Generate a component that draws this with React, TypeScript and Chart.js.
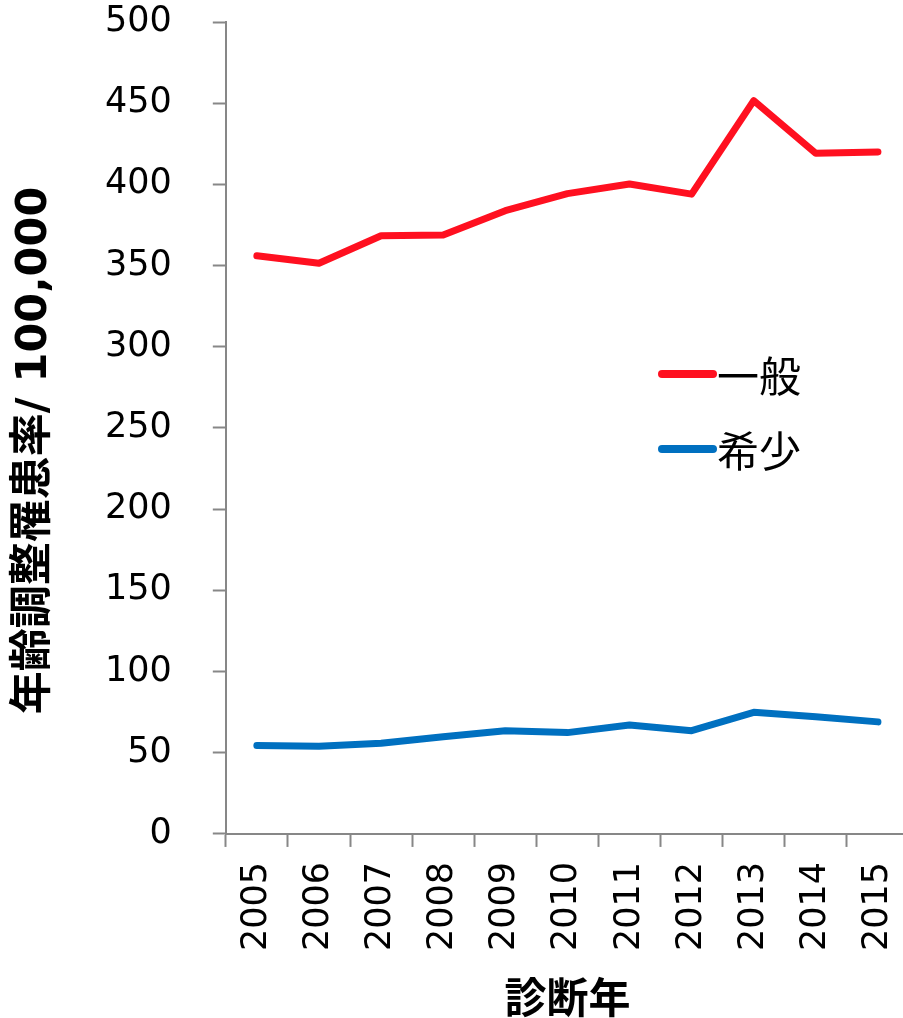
import React, { useEffect, useRef } from "react";
import { Chart, registerables } from "chart.js";

Chart.register(...registerables);

const years = ["2005", "2006", "2007", "2008", "2009", "2010", "2011", "2012", "2013", "2014", "2015"];
const generalRates = [356, 351.4, 368.4, 368.8, 383.8, 394.3, 400.2, 394, 451.6, 419.1, 420];
const rareRates = [54.4, 54.0, 55.8, 59.9, 63.6, 62.4, 67.1, 63.6, 74.9, 72.2, 69.0];
const seriesLabels = ["一般", "希少"];
const seriesColors = ["#FF1020", "#0070C0"];
const yTitle = "年齢調整罹患率/ 100,000   ";
const xTitle = "診断年";

const AXIS_COLOR = "#878787";

const insideLegend = {
  id: "insideLegend",
  afterDatasetsDraw(chart: any) {
    const ctx = chart.ctx;
    chart.data.datasets.forEach((ds: any, i: number) => {
      const y = 374 + i * 75;
      ctx.save();
      ctx.strokeStyle = ds.borderColor;
      ctx.lineWidth = 8;
      ctx.lineCap = "round";
      ctx.beginPath();
      ctx.moveTo(662, y);
      ctx.lineTo(713, y);
      ctx.stroke();
      ctx.fillStyle = "#000";
      ctx.font = '42px "Noto Sans CJK JP"';
      ctx.textBaseline = "middle";
      ctx.textAlign = "left";
      ctx.fillText(ds.label, 717, y + 2);
      ctx.restore();
    });
  },
};

export default function App() {
  const ref = useRef<HTMLCanvasElement | null>(null);
  useEffect(() => {
    if (!ref.current) return;
    const chart = new Chart(ref.current, {
      type: "line",
      data: {
        labels: years,
        datasets: [
          {
            label: seriesLabels[0],
            data: generalRates,
            borderColor: seriesColors[0],
            backgroundColor: seriesColors[0],
            borderWidth: 7,
            pointRadius: 0,
            tension: 0,
            borderCapStyle: "round",
            borderJoinStyle: "round",
          },
          {
            label: seriesLabels[1],
            data: rareRates,
            borderColor: seriesColors[1],
            backgroundColor: seriesColors[1],
            borderWidth: 7,
            pointRadius: 0,
            tension: 0,
            borderCapStyle: "round",
            borderJoinStyle: "round",
          },
        ],
      },
      options: {
        animation: false,
        responsive: false,
        maintainAspectRatio: false,
        layout: { padding: { top: 22, left: 0, right: 0, bottom: 0 } },
        plugins: {
          legend: { display: false },
          tooltip: { enabled: false },
        },
        scales: {
          x: {
            type: "category",
            offset: true,
            afterFit: (s: any) => {
              s.paddingLeft = 0;
              s.paddingRight = 0;
            },
            grid: {
              display: true,
              drawOnChartArea: false,
              drawTicks: true,
              tickLength: 13,
              tickWidth: 2,
              color: AXIS_COLOR,
              offset: true,
            },
            border: { display: true, color: AXIS_COLOR, width: 2 },
            ticks: {
              autoSkip: false,
              minRotation: 90,
              maxRotation: 90,
              padding: 15,
              color: "#000",
              font: { family: "'DejaVu Sans'", size: 35 },
            },
            title: {
              display: true,
              text: xTitle,
              color: "#000",
              padding: { top: 20.5, bottom: 0 },
              font: { family: "'DejaVu Sans', 'Noto Sans CJK JP'", size: 42, weight: "bold", lineHeight: 0.75 },
            },
          },
          y: {
            min: 0,
            max: 500,
            afterFit: (s: any) => {
              s.paddingTop = 0;
              s.paddingBottom = 0;
            },
            ticks: {
              stepSize: 50,
              padding: 41,
              color: "#000",
              font: { family: "'DejaVu Sans'", size: 35 },
            },
            grid: {
              display: true,
              drawOnChartArea: false,
              drawTicks: true,
              tickLength: 13,
              tickWidth: 2,
              color: AXIS_COLOR,
            },
            border: { display: true, color: AXIS_COLOR, width: 2 },
            title: {
              display: true,
              text: yTitle,
              color: "#000",
              padding: { top: 13.5, bottom: 7.5 },
              font: { family: "'DejaVu Sans', 'Noto Sans CJK JP'", size: 43, weight: "bold", lineHeight: 1 },
            },
          },
        },
      },
      plugins: [insideLegend],
    });
    return () => chart.destroy();
  }, []);

  return (
    <div style={{ position: "absolute", left: 0, top: 0, width: 903, height: 1018, overflow: "hidden", background: "#fff" }}>
      <canvas ref={ref} width={909} height={1018} style={{ width: 909, height: 1018, display: "block" }} />
    </div>
  );
}
